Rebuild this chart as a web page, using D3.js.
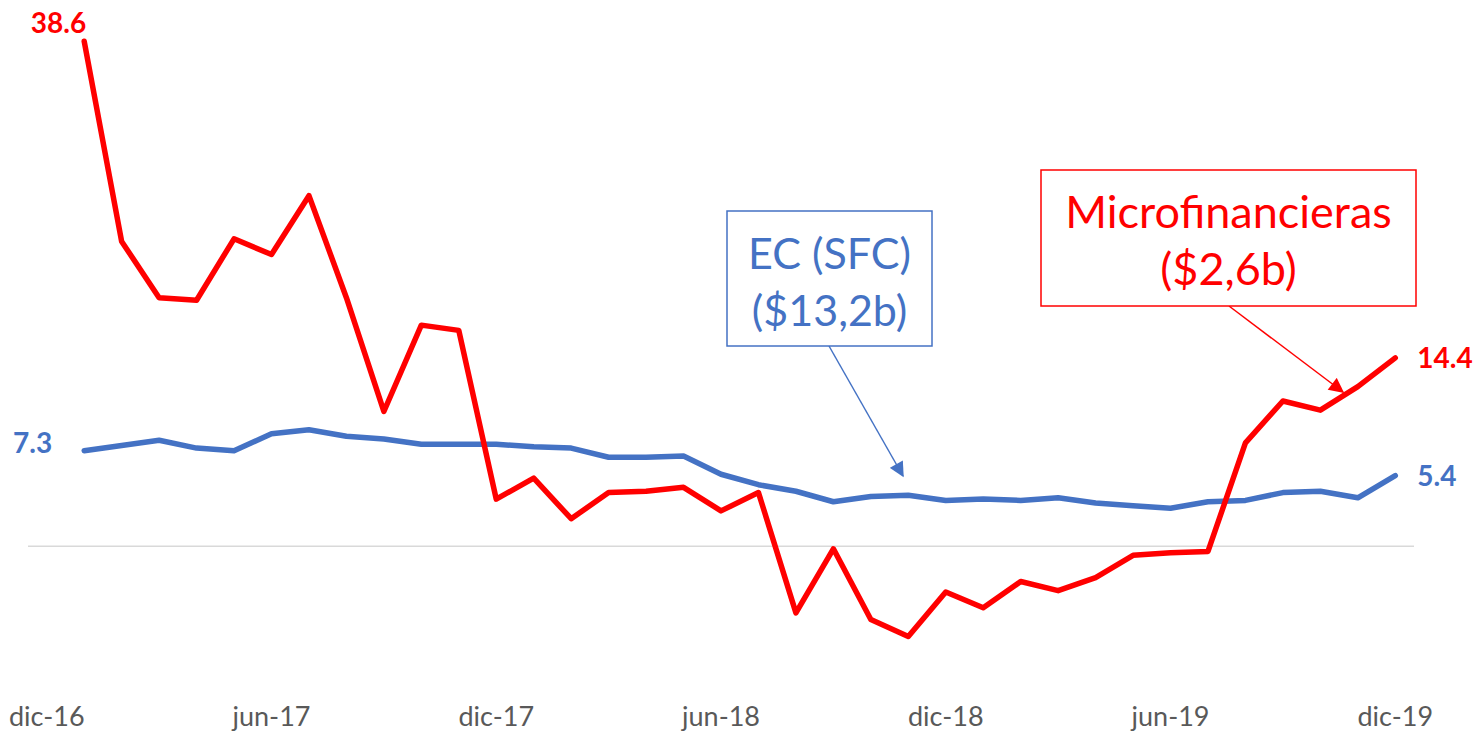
<!DOCTYPE html>
<html>
<head>
<meta charset="utf-8">
<script src="https://cdn.jsdelivr.net/npm/d3@7"></script>
<style>
  body { margin: 0; background: #fff; }
  text { font-family: Lato, "Open Sans", sans-serif; }
</style>
</head>
<body>
<svg id="chart"></svg>
<script>
// set svg params
var svgWidth = 1478, svgHeight = 733;

// months on the category axis (dic-16 .. dic-19)
var months = ["dic-16","ene-17","feb-17","mar-17","abr-17","may-17","jun-17","jul-17","ago-17","sep-17","oct-17","nov-17",
  "dic-17","ene-18","feb-18","mar-18","abr-18","may-18","jun-18","jul-18","ago-18","sep-18","oct-18","nov-18",
  "dic-18","ene-19","feb-19","mar-19","abr-19","may-19","jun-19","jul-19","ago-19","sep-19","oct-19","nov-19","dic-19"];

var tickLabels = ["dic-16","jun-17","dic-17","jun-18","dic-18","jun-19","dic-19"];

// Microfinancieras (red), first month empty
var micro = [null, 38.6, 23.3, 19.0, 18.8, 23.5, 22.3, 26.8, 19.0, 10.3, 16.9, 16.5,
  3.6, 5.2, 2.1, 4.1, 4.2, 4.5, 2.7, 4.1, -5.1, -0.2, -5.6, -6.9,
  -3.5, -4.7, -2.7, -3.4, -2.4, -0.7, -0.5, -0.4, 7.9, 11.1, 10.4, 12.2, 14.4];

// EC (SFC) (blue)
var ec = [null, 7.3, 7.7, 8.1, 7.5, 7.3, 8.6, 8.9, 8.4, 8.2, 7.8, 7.8,
  7.8, 7.6, 7.5, 6.8, 6.8, 6.9, 5.5, 4.7, 4.2, 3.4, 3.8, 3.9,
  3.5, 3.6, 3.5, 3.7, 3.3, 3.1, 2.9, 3.4, 3.5, 4.1, 4.2, 3.7, 5.4];

var red = "#FF0000", blue = "#4472C4";

var xScale = d3.scaleBand()
  .domain(months)
  .range([28, 1414])
  .padding(0);

function xc(m) { return xScale(m) + xScale.bandwidth() / 2; }

var yScale = d3.scaleLinear()
  .domain([-10, 40])
  .range([677, 23]);

var svg = d3.select("#chart")
  .attr("width", svgWidth)
  .attr("height", svgHeight);

// zero line
svg.append("line")
  .attr("x1", 28).attr("x2", 1414)
  .attr("y1", yScale(0)).attr("y2", yScale(0))
  .attr("stroke", "#D9D9D9")
  .attr("stroke-width", 1.5);

// x axis labels
var xAxis = d3.axisBottom(xScale)
  .tickValues(tickLabels)
  .tickSize(0)
  .tickPadding(0);

var gx = svg.append("g")
  .attr("transform", "translate(0,700)")
  .call(xAxis);
gx.select(".domain").remove();
gx.selectAll("text")
  .attr("dy", "0.95em")
  .attr("font-size", 27)
  .attr("font-family", "Lato, sans-serif")
  .attr("fill", "#595959");

// lines
var line = function (vals) {
  return d3.line()
    .defined(function (d, i) { return vals[i] !== null; })
    .x(function (d, i) { return xc(months[i]); })
    .y(function (d, i) { return yScale(vals[i]); })(vals);
};

svg.append("path")
  .attr("d", line(ec))
  .attr("fill", "none")
  .attr("stroke", blue)
  .attr("stroke-width", 5.5)
  .attr("stroke-linejoin", "round")
  .attr("stroke-linecap", "round");

svg.append("path")
  .attr("d", line(micro))
  .attr("fill", "none")
  .attr("stroke", red)
  .attr("stroke-width", 5.5)
  .attr("stroke-linejoin", "round")
  .attr("stroke-linecap", "round");

// end labels
var first = 1, last = months.length - 1;
function label(txt, x, y, color, anchor) {
  svg.append("text")
    .attr("x", x).attr("y", y)
    .attr("text-anchor", anchor)
    .attr("font-size", 28)
    .attr("font-weight", "bold")
    .attr("fill", color)
    .text(txt);
}
label(micro[first].toFixed(1), xc(months[first]) + 2, yScale(micro[first]) - 8, red, "end");
label(ec[first].toFixed(1), xc(months[first]) - 32, yScale(ec[first]) + 2, blue, "end");
label(micro[last].toFixed(1), xc(months[last]) + 22, yScale(micro[last]) + 10, red, "start");
label(ec[last].toFixed(1), xc(months[last]) + 22, yScale(ec[last]) + 10, blue, "start");

// arrow markers
var defs = svg.append("defs");
[["arrBlue", blue], ["arrRed", red]].forEach(function (a) {
  defs.append("marker")
    .attr("id", a[0])
    .attr("viewBox", "0 0 10 10")
    .attr("refX", 9).attr("refY", 5)
    .attr("markerWidth", 17).attr("markerHeight", 15)
    .attr("markerUnits", "userSpaceOnUse")
    .attr("orient", "auto")
    .append("path")
    .attr("d", "M0,0L10,5L0,10Z")
    .attr("fill", a[1]);
});

// callouts
function callout(box, lines, color, from, to, marker, fs) {
  svg.append("line")
    .attr("x1", from[0]).attr("y1", from[1])
    .attr("x2", to[0]).attr("y2", to[1])
    .attr("stroke", color)
    .attr("stroke-width", 1.5)
    .attr("marker-end", "url(#" + marker + ")");
  svg.append("rect")
    .attr("x", box[0]).attr("y", box[1])
    .attr("width", box[2]).attr("height", box[3])
    .attr("fill", "#fff")
    .attr("stroke", color)
    .attr("stroke-width", 1.5);
  lines.forEach(function (t, i) {
    svg.append("text")
      .attr("x", box[0] + box[2] / 2)
      .attr("y", box[1] + 58 + i * 57)
      .attr("text-anchor", "middle")
      .attr("font-size", fs)
      .attr("fill", color)
      .text(t);
  });
}

callout([727, 211, 205, 135], ["EC (SFC)", "($13,2b)"], blue, [829, 346], [903, 476], "arrBlue", 43);
callout([1041, 170, 375, 136], ["Microfinancieras", "($2,6b)"], red, [1229, 306], [1343, 392], "arrRed", 45);
</script>
</body>
</html>
